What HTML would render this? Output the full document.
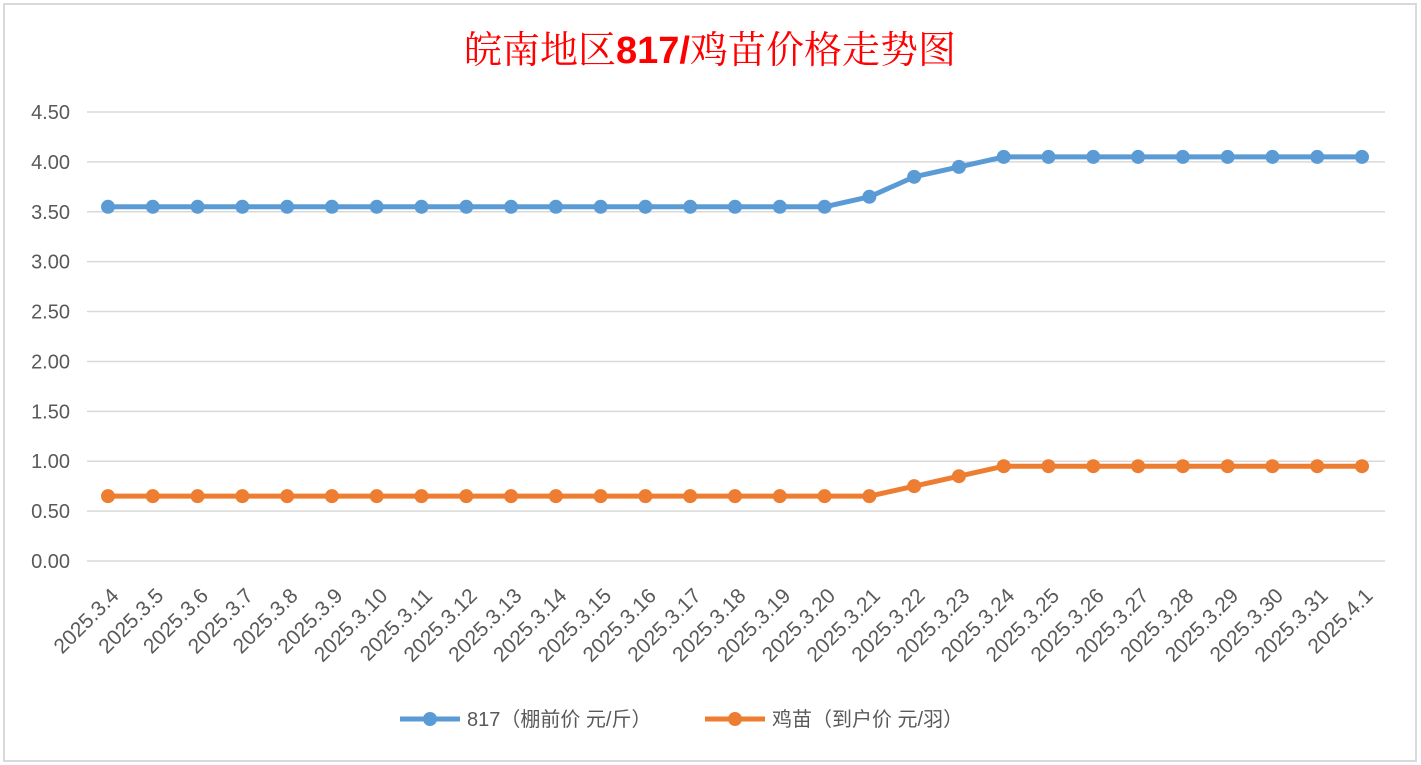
<!DOCTYPE html>
<html><head><meta charset="utf-8"><style>
html,body{margin:0;padding:0;background:#fff;}
svg{display:block;font-family:"Liberation Sans","Noto Sans CJK SC",sans-serif;}
</style></head><body>
<svg id="chart" width="1421" height="765" viewBox="0 0 1421 765" xmlns="http://www.w3.org/2000/svg">
<rect x="4" y="4" width="1412" height="757" fill="#fff" stroke="#d9d9d9" stroke-width="2"/>
<text x="710" y="63" text-anchor="middle" font-size="38" fill="#ff0000" font-family="'Liberation Serif','Noto Serif CJK SC',serif">皖南地区<tspan font-weight="bold" font-family="'Liberation Sans',sans-serif">817/</tspan>鸡苗价格走势图</text>
<g id="grid"></g><g id="yticks"></g><g id="xticks"></g><g id="series"></g>
<g>
<g>
<line x1="400" y1="719" x2="460" y2="719" stroke="#5b9bd5" stroke-width="5"/>
<circle cx="430" cy="719" r="7" fill="#5b9bd5"/>
<text x="467" y="726" font-size="20" fill="#595959">817（棚前价 元/斤）</text></g>
<g>
<line x1="705" y1="719" x2="765" y2="719" stroke="#ed7d31" stroke-width="5"/>
<circle cx="735" cy="719" r="7" fill="#ed7d31"/>
<text x="772" y="726" font-size="20" fill="#595959">鸡苗（到户价 元/羽）</text></g>
</g>
</svg>
<script>
const categories=["2025.3.4","2025.3.5","2025.3.6","2025.3.7","2025.3.8","2025.3.9","2025.3.10","2025.3.11","2025.3.12","2025.3.13","2025.3.14","2025.3.15","2025.3.16","2025.3.17","2025.3.18","2025.3.19","2025.3.20","2025.3.21","2025.3.22","2025.3.23","2025.3.24","2025.3.25","2025.3.26","2025.3.27","2025.3.28","2025.3.29","2025.3.30","2025.3.31","2025.4.1"];
const series817=[3.55,3.55,3.55,3.55,3.55,3.55,3.55,3.55,3.55,3.55,3.55,3.55,3.55,3.55,3.55,3.55,3.55,3.65,3.85,3.95,4.05,4.05,4.05,4.05,4.05,4.05,4.05,4.05,4.05];
const seriesChick=[0.65,0.65,0.65,0.65,0.65,0.65,0.65,0.65,0.65,0.65,0.65,0.65,0.65,0.65,0.65,0.65,0.65,0.65,0.75,0.85,0.95,0.95,0.95,0.95,0.95,0.95,0.95,0.95,0.95];
const yTicks=[0,0.5,1,1.5,2,2.5,3,3.5,4,4.5];
const NS="http://www.w3.org/2000/svg";
const x0=108,x1=1362,yBase=561,yTop=112,yMax=4.5;
function xs(i){return x0+(x1-x0)*i/(categories.length-1);}
function ys(v){return yBase-(yBase-yTop)*v/yMax;}
function mk(tag,attrs,parent){const e=document.createElementNS(NS,tag);for(const k in attrs)e.setAttribute(k,attrs[k]);parent.appendChild(e);return e;}
const grid=document.getElementById('grid'),yt=document.getElementById('yticks'),xt=document.getElementById('xticks'),sg=document.getElementById('series');
yTicks.forEach(v=>{
 const l=mk('line',{x1:87,x2:1385,y1:ys(v),y2:ys(v),stroke:'#d9d9d9','stroke-width':1.5},grid);
 
 
 const t=mk('text',{x:70,y:ys(v)+7,'text-anchor':'end','font-size':20,fill:'#595959'},yt);
 t.textContent=v.toFixed(2);
 
 
});
categories.forEach((c,i)=>{
 const x=xs(i)+12,y=597;
 const t=mk('text',{x:x,y:y,'text-anchor':'end','font-size':21,fill:'#595959',transform:`rotate(-45 ${x} ${y})`},xt);
 t.textContent=c;
 
 
});
function draw(data,color,name){
 const g=mk('g',{},sg);
 
 
 const p=mk('polyline',{points:data.map((v,i)=>xs(i)+','+ys(v)).join(' '),fill:'none',stroke:color,'stroke-width':5,'stroke-linejoin':'round'},g);
 
 
 data.forEach((v,i)=>{
  const c=mk('circle',{cx:xs(i),cy:ys(v),r:7,fill:color},g);
  
  
 });
}
draw(series817,'#5b9bd5','series-817');
draw(seriesChick,'#ed7d31','series-chick');
</script>
</body></html>
